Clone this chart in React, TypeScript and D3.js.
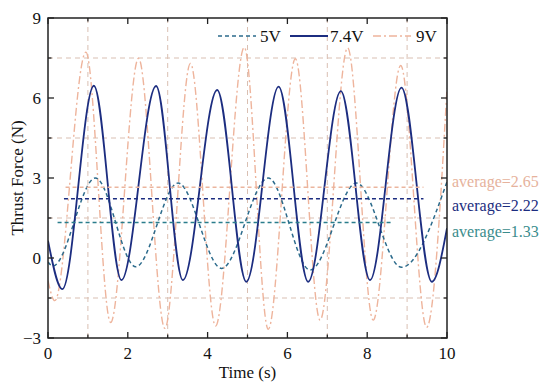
import React from 'react';
import * as d3 from 'd3';

// 7.4V series (peaks / troughs)
const t74 = [0, 0.36, 1.15, 1.84, 2.71, 3.38, 4.24, 4.97, 5.78, 6.52, 7.34, 8.07, 8.86, 9.62, 10];
const v74 = [0.65, -1.17, 6.46, -0.83, 6.45, -0.83, 6.3, -0.89, 6.43, -0.89, 6.26, -0.83, 6.39, -0.89, 1.12];

// 5V series
const t5 = [0, 0.12, 1.19, 2.2, 3.26, 4.35, 5.52, 6.57, 7.73, 8.86, 10];
const v5 = [-0.15, -0.3, 3.0, -0.33, 2.81, -0.39, 3.0, -0.45, 2.81, -0.35, 2.86];

// 9V series
const t9 = [0, 0.17, 0.95, 1.57, 2.27, 2.93, 3.57, 4.2, 4.92, 5.52, 6.2, 6.82, 7.51, 8.15, 8.84, 9.49, 10];
const v9 = [-0.85, -1.6, 7.72, -2.42, 7.49, -2.64, 7.3, -2.55, 7.9, -2.67, 7.47, -2.33, 7.88, -2.33, 7.22, -2.6, 6.36];

// average lines
const avgValues = [2.65, 2.22, 1.33];
const avgStart = [0.44, 0.4, 0.24];
const avgEnd = [9.41, 9.41, 8.64];
const avgLabels = ['average=2.65', 'average=2.22', 'average=1.33'];

const xMajor = [0, 2, 4, 6, 8, 10];
const xMinor = [1, 3, 5, 7, 9];
const yMajor = [-3, 0, 3, 6, 9];
const yMinor = [-1.5, 1.5, 4.5, 7.5];

const seriesNames = ['5V', '7.4V', '9V'];

const C5 = '#2c6b8c';
const C74 = '#1c2d80';
const C9 = '#eeb49c';
const GRID = '#d9bfb2';
const avgColors = ['#ebb59e', '#1c2d80', '#2a7d8c'];
const avgTextColors = ['#e6b29c', '#1c2d80', '#3a8c8c'];

const W = 550;
const H = 390;
const margin = { left: 48, right: 103, top: 18, bottom: 52 };
const FONT = '"Liberation Serif", "Times New Roman", serif';

const App: React.FC = () => {
  const x = d3.scaleLinear().domain([0, 10]).range([margin.left, W - margin.right]);
  const y = d3.scaleLinear().domain([-3, 9]).range([H - margin.bottom, margin.top]);
  const x0 = x(0), x1 = x(10), y0 = y(-3), y1 = y(9);

  const line = d3.line<[number, number]>()
    .x(d => x(d[0]))
    .y(d => y(d[1]))
    .curve(d3.curveMonotoneX);

  const zip = (ts: number[], vs: number[]) => ts.map((t, i) => [t, vs[i]] as [number, number]);

  const legendY = 36;
  const legendItems = [
    { name: seriesNames[0], color: C5, dash: '4,3', lx: 218, tx: 260 },
    { name: seriesNames[1], color: C74, dash: undefined, lx: 290, tx: 330 },
    { name: seriesNames[2], color: C9, dash: '8,3,2,3', lx: 373, tx: 416 },
  ];

  return (
    <svg width={W} height={H} style={{ position: 'absolute', left: 0, top: 0 }} fontFamily={FONT}>
      <rect width={W} height={H} fill="#fff" />
      <defs>
        <clipPath id="plot">
          <rect x={x0} y={y1} width={x1 - x0} height={y0 - y1} />
        </clipPath>
      </defs>

      {/* grid at minor ticks */}
      {xMinor.map(v => (
        <line key={'gx' + v} x1={x(v)} x2={x(v)} y1={y1} y2={y0} stroke={GRID} strokeWidth={1} strokeDasharray="5,4" />
      ))}
      {yMinor.map(v => (
        <line key={'gy' + v} x1={x0} x2={x1} y1={y(v)} y2={y(v)} stroke={GRID} strokeWidth={1} strokeDasharray="5,4" />
      ))}

      <g clipPath="url(#plot)">
        <path d={line(zip(t9, v9)) || ''} fill="none" stroke={C9} strokeWidth={1.4} strokeDasharray="8,3,2,3" />
        <path d={line(zip(t5, v5)) || ''} fill="none" stroke={C5} strokeWidth={1.5} strokeDasharray="4,3" />
        <path d={line(zip(t74, v74)) || ''} fill="none" stroke={C74} strokeWidth={1.8} />
      </g>

      {/* average lines */}
      {avgValues.map((v, i) => (
        <line key={'avg' + i} x1={x(avgStart[i])} x2={x(avgEnd[i])} y1={y(v)} y2={y(v)}
          stroke={avgColors[i]} strokeWidth={1.5} strokeDasharray="4,3" />
      ))}

      {/* frame */}
      <rect x={x0} y={y1} width={x1 - x0} height={y0 - y1} fill="none" stroke="#222" strokeWidth={1.5} />

      {/* ticks */}
      {xMajor.concat(xMinor).map(v => {
        const len = xMajor.includes(v) ? 6 : 3.5;
        return (
          <g key={'tx' + v}>
            <line x1={x(v)} x2={x(v)} y1={y0} y2={y0 - len} stroke="#222" strokeWidth={1.3} />
            <line x1={x(v)} x2={x(v)} y1={y1} y2={y1 + len} stroke="#222" strokeWidth={1.3} />
          </g>
        );
      })}
      {yMajor.concat(yMinor).map(v => {
        const len = yMajor.includes(v) ? 6 : 3.5;
        return (
          <g key={'ty' + v}>
            <line x1={x0} x2={x0 + len} y1={y(v)} y2={y(v)} stroke="#222" strokeWidth={1.3} />
            <line x1={x1} x2={x1 - len} y1={y(v)} y2={y(v)} stroke="#222" strokeWidth={1.3} />
          </g>
        );
      })}

      {/* tick labels */}
      {xMajor.map(v => (
        <text key={'lx' + v} x={x(v)} y={y0 + 21} textAnchor="middle" fontSize={17} fill="#111">{v}</text>
      ))}
      {yMajor.map(v => (
        <text key={'ly' + v} x={x0 - 7} y={y(v) + 6} textAnchor="end" fontSize={17} fill="#111">
          {v < 0 ? '\u2212' + Math.abs(v) : v}
        </text>
      ))}

      {/* axis titles */}
      <text x={(x0 + x1) / 2} y={378} textAnchor="middle" fontSize={17} fill="#111">Time (s)</text>
      <text transform={`translate(23,${(y0 + y1) / 2}) rotate(-90)`} textAnchor="middle" fontSize={17} fill="#111">
        Thrust Force (N)
      </text>

      {/* legend */}
      {legendItems.map(it => (
        <g key={it.name}>
          <line x1={it.lx} x2={it.lx + 38} y1={legendY} y2={legendY} stroke={it.color}
            strokeWidth={it.name === '7.4V' ? 1.8 : 1.4} strokeDasharray={it.dash} />
          <text x={it.tx} y={legendY + 6} fontSize={17} fill="#111">{it.name}</text>
        </g>
      ))}

      {/* average labels */}
      {avgLabels.map((s, i) => (
        <text key={s} x={452} y={y(avgValues[i]) + (i === 0 ? 0 : i === 1 ? 12 : 14)} fontSize={16} fill={avgTextColors[i]}>
          {s}
        </text>
      ))}
    </svg>
  );
};

export default App;
